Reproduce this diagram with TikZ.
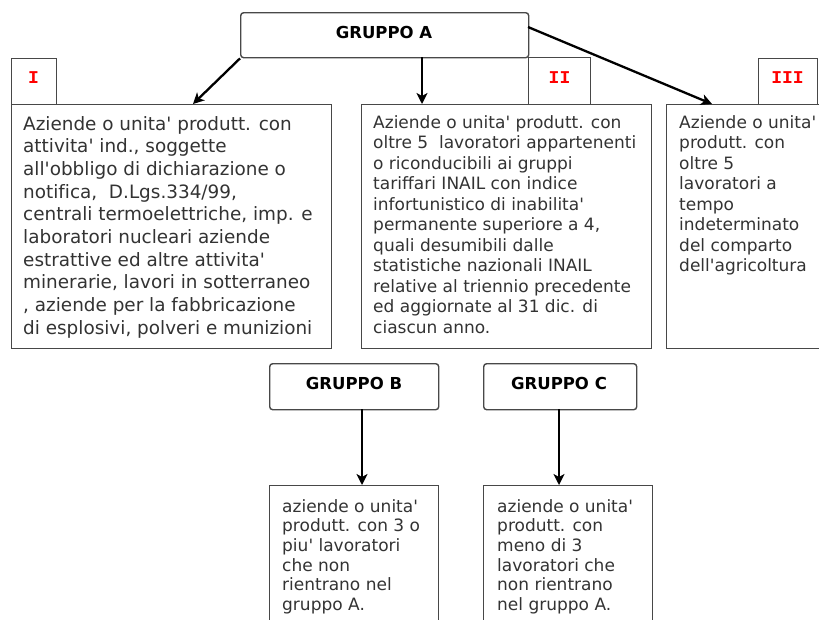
\documentclass[tikz,border=0pt]{standalone}
\usepackage{fontspec}
\setmainfont{DejaVu Sans}[Ligatures={TeXOff,NoCommon}]
\newfontfamily\romfont{Liberation Mono}[Ligatures=TeXOff]
\usetikzlibrary{arrows.meta}
\definecolor{txtgray}{HTML}{333333}
\definecolor{linegray}{HTML}{484848}
\tikzset{
  box/.style={draw=linegray, line width=1.4pt, anchor=north west, inner sep=0pt, fill=white},
  gbox/.style={box, rounded corners=3pt},
  bigtxt/.style={anchor=base west, inner sep=0pt, align=left, text=txtgray, font=\fontsize{18.4}{22.7}\selectfont},
  smltxt/.style={anchor=base west, inner sep=0pt, align=left, text=txtgray, font=\fontsize{17}{20.5}\selectfont},
  bctxt/.style={anchor=base west, inner sep=0pt, align=left, text=txtgray, font=\fontsize{17}{19.7}\selectfont},
  gtxt/.style={anchor=base, inner sep=0pt, text=black, font=\fontsize{16.5}{20}\selectfont\bfseries},
  rom/.style={anchor=base, inner sep=0pt, text=red, font=\fontsize{18}{20}\selectfont\romfont\bfseries},
  arr/.style={draw=black, line width=2.3pt, -{Stealth[length=11pt,width=11pt,inset=3pt]}}
}
\begin{document}
\begin{tikzpicture}[x=1pt,y=-1pt]
\useasboundingbox (0,0) rectangle (819,619);
\clip (0,0) rectangle (819,619);
\fill[white] (0,0) rectangle (819,619);
% group A
\node[gbox, minimum width=288pt, minimum height=45pt] (gA) at (240,12) {};
\node[gtxt] (gAt) at (384,38) {GRUPPO A};
% label boxes
\node[box, minimum width=45pt, minimum height=46pt] (l1) at (11,58) {};
\node[rom] (l1t) at (33.5,83) {I};
\node[box, minimum width=62pt, minimum height=47pt] (l2) at (528,57) {};
\node[rom] (l2t) at (559.5,83) {II};
\node[box, minimum width=59pt, minimum height=46pt] (l3) at (758,58) {};
\node[rom] (l3t) at (787.5,83) {III};
% main boxes
\node[box, minimum width=320pt, minimum height=244pt] (b1) at (11,104) {};
\node[box, minimum width=290pt, minimum height=244pt] (b2) at (361,104) {};
\node[box, minimum width=170pt, minimum height=244pt] (b3) at (666,104) {};
\node[bigtxt] (b1t) at (23,334.3) {Aziende o unita' produtt. con\\attivita' ind., soggette\\all'obbligo di dichiarazione o\\notifica,\ \ D.Lgs.334/99,\\centrali termoelettriche, imp. e\\laboratori nucleari aziende\\estrattive ed altre attivita'\\minerarie, lavori in sotterraneo\\, aziende per la fabbricazione\\di esplosivi, polveri e munizioni};
\node[smltxt] (b2t) at (373,333) {Aziende o unita' produtt. con\\oltre 5\ \ lavoratori appartenenti\\o riconducibili ai gruppi\\tariffari INAIL con indice\\infortunistico di inabilita'\\permanente superiore a 4,\\quali desumibili dalle\\statistiche nazionali INAIL\\relative al triennio precedente\\ed aggiornate al 31 dic. di\\ciascun anno.};
\node[smltxt] (b3t) at (679,271.5) {Aziende o unita'\\produtt. con\\oltre 5\\lavoratori a\\tempo\\indeterminato\\del comparto\\dell'agricoltura};
% groups B, C
\node[gbox, minimum width=169pt, minimum height=46pt] (gB) at (269,363) {};
\node[gtxt] (gBt) at (354,389) {GRUPPO B};
\node[gbox, minimum width=153pt, minimum height=46pt] (gC) at (483,363) {};
\node[gtxt] (gCt) at (559,389) {GRUPPO C};
\node[box, minimum width=169pt, minimum height=150pt] (bB) at (269,485) {};
\node[box, minimum width=169pt, minimum height=150pt] (bC) at (483,485) {};
\node[bctxt] (bBt) at (282,610.5) {aziende o unita'\\produtt. con 3 o\\piu' lavoratori\\che non\\rientrano nel\\gruppo A.};
\node[bctxt] (bCt) at (497,610.5) {aziende o unita'\\produtt. con\\meno di 3\\lavoratori che\\non rientrano\\nel gruppo A.};
% connector end points
\coordinate (a1s) at (gA.south west);
\coordinate (a1e) at (193,104);
\coordinate (a2s) at (422,57);
\coordinate (a2e) at (422,104);
\coordinate (a3s) at (528,27);
\coordinate (a3e) at (712,104);
\coordinate (aBs) at (362,409);
\coordinate (aBe) at (362,485);
\coordinate (aCs) at (559,409);
\coordinate (aCe) at (559,485);
\draw[arr] (a1s) -- (a1e);
\draw[arr] (a2s) -- (a2e);
\draw[arr] (a3s) -- (a3e);
\draw[arr] (aBs) -- (aBe);
\draw[arr] (aCs) -- (aCe);
\end{tikzpicture}
\end{document}
